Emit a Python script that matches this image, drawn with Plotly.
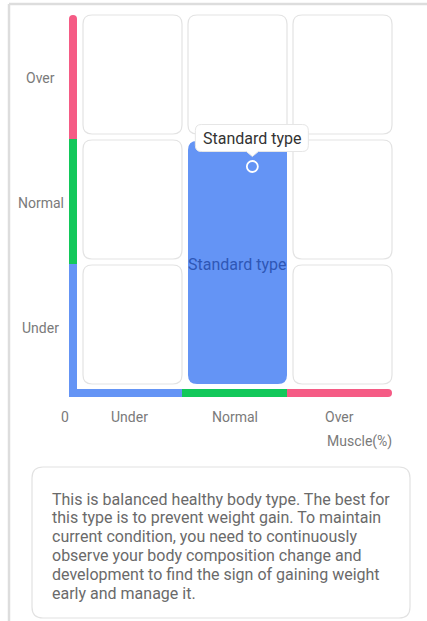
import plotly.graph_objects as go

# ---------------- data ----------------
muscle_levels = ["Under", "Normal", "Over"]        # x bands (left -> right)
fat_levels = ["Under", "Normal", "Over"]           # y bands (bottom -> top)
band_colors = ["#6494F5", "#12C85A", "#F55B85"]    # Under / Normal / Over
origin_label = "0"
x_title = "Muscle(%)"

highlight_muscle = "Normal"
highlight_fat_from = "Under"
highlight_fat_to = "Normal"
highlight_label = "Standard type"

point_muscle = [1.67]   # position in band units
point_fat = [1.78]
point_label = "Standard type"

description_lines = [
    "This is balanced healthy body type. The best for",
    "this type is to prevent weight gain. To maintain",
    "current condition, you need to continuously",
    "observe your body composition change and",
    "development to find the sign of gaining weight",
    "early and manage it.",
]

# ---------------- layout constants ----------------
W, H = 427, 621
XR = [-77 / 105, (W - 77) / 105]
YR = [(389 - H) / 125, 389 / 125]
PXX = W / (XR[1] - XR[0])
PXY = H / (YR[1] - YR[0])
FONT = "Roboto, 'Noto Sans', sans-serif"
GRID_BORDER = "#E3E3E3"
LABEL_COLOR = "#7A7A7A"


def rpath(x0, x1, y0, y1, r=(0, 0, 0, 0)):
    """rounded rect in data coords; r = (tl, tr, br, bl) in pixels; y1 is top"""
    tl, tr, br, bl = r
    def rx(p): return p / PXX
    def ry(p): return p / PXY
    p = f"M {x0 + rx(tl)},{y1} L {x1 - rx(tr)},{y1} "
    p += f"Q {x1},{y1} {x1},{y1 - ry(tr)} L {x1},{y0 + ry(br)} "
    p += f"Q {x1},{y0} {x1 - rx(br)},{y0} L {x0 + rx(bl)},{y0} "
    p += f"Q {x0},{y0} {x0},{y0 + ry(bl)} L {x0},{y1 - ry(tl)} "
    p += f"Q {x0},{y1} {x0 + rx(tl)},{y1} Z"
    return p


shapes = []
n = len(muscle_levels)
m = len(fat_levels)
gx = 6 / PXX
gy_b = 5 / PXY
gy_t = 1 / PXY

hi_i = muscle_levels.index(highlight_muscle)
hi_j0 = fat_levels.index(highlight_fat_from)
hi_j1 = fat_levels.index(highlight_fat_to)

# grid cells
for i in range(n):
    for j in range(m):
        if i == hi_i and hi_j0 <= j <= hi_j1:
            continue
        shapes.append(dict(type="path", path=rpath(i + gx, i + 1, j + gy_b, j + 1 - gy_t, (9, 9, 9, 9)),
                           line=dict(color=GRID_BORDER, width=1.2), fillcolor="white", layer="below"))

# highlight region
shapes.append(dict(type="path",
                   path=rpath(hi_i + gx, hi_i + 1, hi_j0 + gy_b, hi_j1 + 1 - 2 / PXY, (9, 9, 9, 9)),
                   line=dict(width=0), fillcolor=band_colors[0], layer="below"))

# axis colour bars
bw_x = 8 / PXX
bw_y = 8 / PXY
for k, c in enumerate(band_colors):
    # vertical (fat)
    y0 = -bw_y if k == 0 else k
    y1 = k + 1 - (1 / PXY if k == m - 1 else 0)
    rr = (4, 4, 0, 0) if k == m - 1 else (0, 0, 0, 0)
    shapes.append(dict(type="path", path=rpath(-bw_x, 0, y0, y1, rr), line=dict(width=0),
                       fillcolor=c, layer="below"))
    # horizontal (muscle)
    x0 = -bw_x if k == 0 else k
    rr = (0, 4, 4, 0) if k == n - 1 else (0, 0, 0, 0)
    shapes.append(dict(type="path", path=rpath(x0, k + 1, -bw_y, 0, rr), line=dict(width=0),
                       fillcolor=c, layer="below"))

# outer page frame
shapes.append(dict(type="line", xref="paper", yref="paper", x0=9 / W, x1=1.01, y0=1 - 4 / H, y1=1 - 4 / H,
                   line=dict(color="#DDDDDD", width=2.5)))
shapes.append(dict(type="line", xref="paper", yref="paper", x0=9 / W, x1=9 / W, y0=1 - 4 / H, y1=-0.01,
                   line=dict(color="#DDDDDD", width=2.5)))

# description box
bx0, bx1, by0, by1 = 32, 410, 467, 618
shapes.append(dict(type="path",
                   path=rpath(XR[0] + bx0 / PXX, XR[0] + bx1 / PXX, YR[1] - by1 / PXY, YR[1] - by0 / PXY,
                              (11, 11, 11, 11)),
                   line=dict(color="#E2E2E2", width=1.2), fillcolor="white", layer="below"))

# tooltip bubble anchored at the point (pixel units)
tip = "M -51,42 L 50,42 Q 56,42 56,36 L 56,21 Q 56,15 50,15 L 6,15 L 0,10 L -6,15 L -51,15 " \
      "Q -57,15 -57,21 L -57,36 Q -57,42 -51,42 Z"
shapes.append(dict(type="path", xsizemode="pixel", ysizemode="pixel",
                   xanchor=point_muscle[0], yanchor=point_fat[0], path=tip,
                   fillcolor="white", line=dict(color="#E6E6E6", width=1), layer="above"))

fig = go.Figure()
fig.add_trace(go.Scatter(x=point_muscle, y=point_fat, mode="markers",
                         marker=dict(size=11, color="rgba(0,0,0,0)", line=dict(color="white", width=1.8)),
                         hoverinfo="skip", showlegend=False))

ann = []
# y labels
for j, lab in enumerate(fat_levels):
    ann.append(dict(x=XR[0] + 40.5 / PXX, y=j + 0.5, text=lab, showarrow=False, xanchor="center",
                    yanchor="middle", yshift=-1, font=dict(family=FONT, size=14, color=LABEL_COLOR)))
# x labels
xl_y = YR[1] - 417 / PXY
for i, lab in enumerate(muscle_levels):
    ann.append(dict(x=i + 0.5, y=xl_y, text=lab, showarrow=False, xanchor="center", yanchor="middle",
                    font=dict(family=FONT, size=14, color=LABEL_COLOR)))
ann.append(dict(x=XR[0] + 64.5 / PXX, y=xl_y, text=origin_label, showarrow=False, xanchor="center",
                yanchor="middle", font=dict(family=FONT, size=14, color=LABEL_COLOR)))
ann.append(dict(x=n, y=YR[1] - 441 / PXY, text=x_title, showarrow=False, xanchor="right", yanchor="middle",
                xshift=2, font=dict(family=FONT, size=14, color=LABEL_COLOR)))
# highlight label
ann.append(dict(x=hi_i + 0.5 + gx / 2, y=(hi_j0 + hi_j1 + 1) / 2, text=highlight_label, showarrow=False,
                xanchor="center", yanchor="middle", font=dict(family=FONT, size=16, color="#2F57B5")))
# tooltip text
ann.append(dict(x=point_muscle[0], y=point_fat[0], text=point_label, showarrow=False, xanchor="center",
                yanchor="middle", yshift=28.5, font=dict(family=FONT, size=16, color="#333333")))
# description
for k, line in enumerate(description_lines):
    ann.append(dict(x=XR[0] + 50 / PXX, y=YR[1] - (499 + 18.8 * k) / PXY, text=line, showarrow=False,
                    xanchor="left", yanchor="middle", font=dict(family=FONT, size=16, color="#6A6A6A")))

fig.update_layout(
    width=W, height=H, margin=dict(l=0, r=0, t=0, b=0),
    paper_bgcolor="white", plot_bgcolor="white",
    xaxis=dict(range=XR, visible=False, fixedrange=True),
    yaxis=dict(range=YR, visible=False, fixedrange=True),
    shapes=shapes, annotations=ann, showlegend=False,
)

fig.write_html("out.html", config=dict(displayModeBar=False),
               post_script="document.body.style.margin='0';document.body.style.overflow='hidden';")
